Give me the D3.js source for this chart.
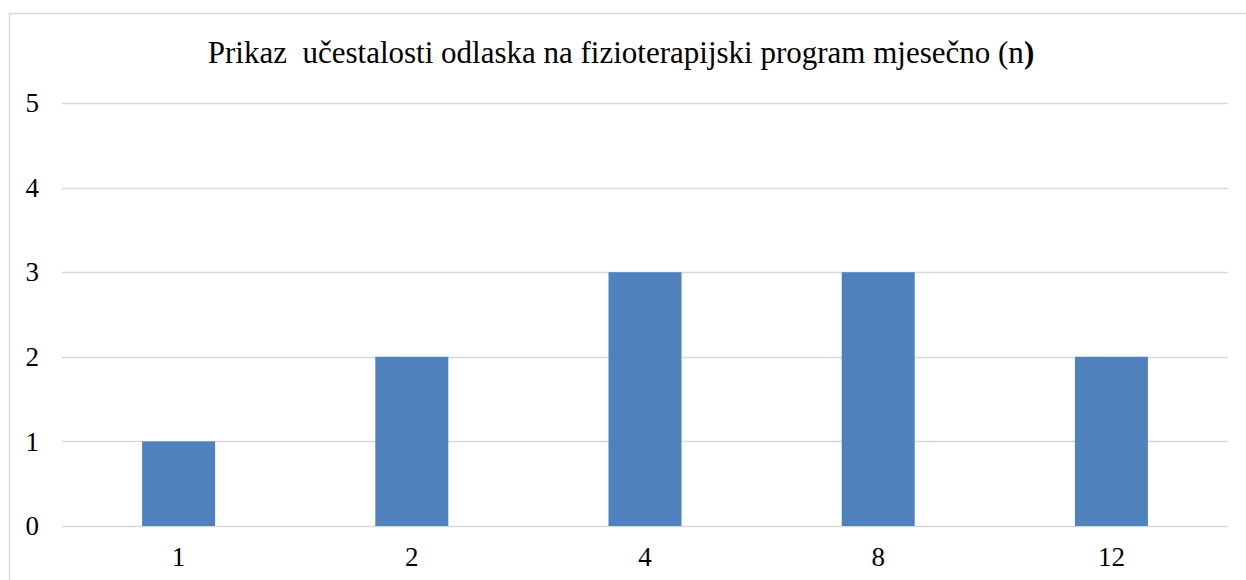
<!DOCTYPE html>
<html>
<head>
<meta charset="utf-8">
<script src="https://cdn.jsdelivr.net/npm/d3@7"></script>
<style>
  html, body { margin: 0; padding: 0; background: #fff; }
  svg { display: block; }
  svg text { font-family: "Liberation Serif", Tinos, "Times New Roman", "DejaVu Serif", serif; }
</style>
</head>
<body>
<script>
// data
const categories = ['1', '2', '4', '8', '12'];
const counts = [1, 2, 3, 3, 2];
const yTicks = [0, 1, 2, 3, 4, 5];
const titleText = 'Prikaz  učestalosti odlaska na fizioterapijski program mjesečno (n';

const W = 1246, H = 580;
const margin = { top: 103, right: 18, bottom: 54, left: 62 };
const width = W - margin.left - margin.right;
const height = H - margin.top - margin.bottom;

const svg = d3.select('body').append('svg')
  .attr('width', W)
  .attr('height', H);

// chart area border (runs off the right and bottom edges)
svg.append('rect')
  .attr('x', 9.5)
  .attr('y', 13.5)
  .attr('width', W)
  .attr('height', H)
  .attr('fill', 'none')
  .attr('stroke', '#d9d9d9')
  .attr('stroke-width', 1.5);

const title = svg.append('text')
  .attr('x', 621)
  .attr('y', 63)
  .attr('text-anchor', 'middle')
  .attr('font-size', 31)
  .attr('fill', '#000')
  .style('white-space', 'pre');
title.append('tspan').text(titleText);
title.append('tspan').attr('font-weight', 'bold').text(')');

const g = svg.append('g')
  .attr('transform', `translate(${margin.left}, ${margin.top})`);

const x = d3.scaleBand()
  .domain(categories)
  .range([0, width])
  .paddingInner(0.687)
  .paddingOuter(0.3435);

const y = d3.scaleLinear()
  .domain([0, 5])
  .range([height, 0]);

// gridlines
g.append('g')
  .selectAll('line')
  .data(yTicks)
  .join('line')
  .attr('x1', 0)
  .attr('x2', width)
  .attr('y1', d => Math.round(y(d)) + 0.5)
  .attr('y2', d => Math.round(y(d)) + 0.5)
  .attr('stroke', '#d9d9d9')
  .attr('stroke-width', 1.5);

// bars
g.append('g')
  .selectAll('rect')
  .data(counts)
  .join('rect')
  .attr('x', (d, i) => x(categories[i]))
  .attr('y', d => y(d))
  .attr('width', x.bandwidth())
  .attr('height', d => y(0) - y(d))
  .attr('fill', '#4f81bd');

// y axis labels
const yAxis = d3.axisLeft(y)
  .tickValues(yTicks)
  .tickSize(0)
  .tickPadding(23)
  .tickFormat(d3.format('d'));

g.append('g')
  .call(yAxis)
  .attr('font-family', null)
  .call(s => s.select('.domain').remove())
  .selectAll('text')
  .attr('font-size', 27)
  .attr('fill', '#000');

// x axis labels
const xAxis = d3.axisBottom(x)
  .tickSize(0)
  .tickPadding(21);

g.append('g')
  .attr('transform', `translate(0, ${height})`)
  .call(xAxis)
  .attr('font-family', null)
  .call(s => s.select('.domain').remove())
  .selectAll('text')
  .attr('font-size', 27)
  .attr('fill', '#000');
</script>
</body>
</html>
